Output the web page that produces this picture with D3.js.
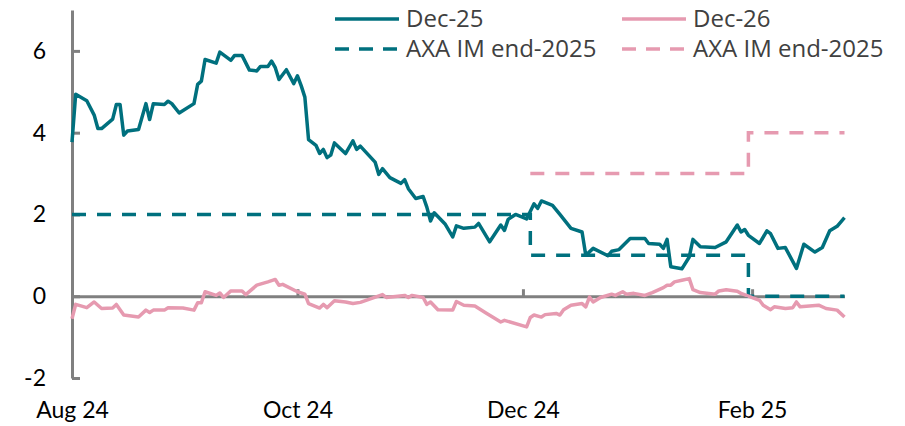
<!DOCTYPE html>
<html>
<head>
<meta charset="utf-8">
<script src="https://cdn.jsdelivr.net/npm/d3@7"></script>
<style>
  body { margin: 0; background: #fff; }
  svg { display: block; }
</style>
</head>
<body>
<svg width="905" height="426"></svg>
<script>
// Dec-25 contract (teal)
const dec25Dates = [
  "2024-08-01","2024-08-02","2024-08-05","2024-08-07","2024-08-08","2024-08-09","2024-08-12","2024-08-13",
  "2024-08-14","2024-08-15","2024-08-16","2024-08-19","2024-08-21","2024-08-22","2024-08-23","2024-08-26",
  "2024-08-27","2024-08-28","2024-08-30","2024-09-03","2024-09-04","2024-09-05","2024-09-06","2024-09-09",
  "2024-09-10","2024-09-13","2024-09-14","2024-09-16","2024-09-18","2024-09-20","2024-09-21","2024-09-23",
  "2024-09-24","2024-09-25","2024-09-26","2024-09-28","2024-09-30","2024-10-01","2024-10-02","2024-10-03",
  "2024-10-04","2024-10-06","2024-10-07","2024-10-08","2024-10-09","2024-10-10","2024-10-11","2024-10-14",
  "2024-10-16","2024-10-17","2024-10-18","2024-10-22","2024-10-23","2024-10-24","2024-10-26","2024-10-29",
  "2024-10-30","2024-10-31","2024-11-02","2024-11-04","2024-11-05","2024-11-06","2024-11-07","2024-11-10",
  "2024-11-12","2024-11-13","2024-11-15","2024-11-18","2024-11-19","2024-11-22","2024-11-25","2024-11-26",
  "2024-11-27","2024-11-29","2024-12-02","2024-12-04","2024-12-05","2024-12-06","2024-12-09","2024-12-11",
  "2024-12-14","2024-12-17","2024-12-18","2024-12-20","2024-12-24","2024-12-25","2024-12-27","2024-12-30",
  "2025-01-03","2025-01-04","2025-01-07","2025-01-08","2025-01-09","2025-01-10","2025-01-13","2025-01-15",
  "2025-01-16","2025-01-18","2025-01-22","2025-01-25","2025-01-28","2025-01-29","2025-01-30","2025-01-31",
  "2025-02-03","2025-02-05","2025-02-06","2025-02-08","2025-02-10","2025-02-13","2025-02-15","2025-02-18",
  "2025-02-20","2025-02-22","2025-02-24","2025-02-26"
];
const dec25Values = [
  3.77,4.94,4.78,4.43,4.10,4.10,4.33,4.69,
  4.69,3.94,4.04,4.08,4.71,4.32,4.71,4.69,
  4.77,4.71,4.48,4.71,5.18,5.26,5.79,5.70,
  5.97,5.77,5.89,5.89,5.53,5.51,5.62,5.62,
  5.75,5.59,5.30,5.54,5.20,5.39,5.15,4.87,
  3.83,3.69,3.49,3.59,3.39,3.45,3.75,3.49,
  3.80,3.59,3.67,3.28,2.98,3.12,2.90,2.76,
  2.85,2.63,2.39,2.44,2.18,1.84,2.04,1.76,
  1.45,1.72,1.66,1.69,1.78,1.33,1.74,1.61,
  1.88,2.00,1.89,2.26,2.15,2.33,2.22,2.00,
  1.66,1.57,1.00,1.17,0.99,1.10,1.14,1.41,
  1.41,1.29,1.27,1.17,1.39,0.72,0.67,0.96,
  1.39,1.21,1.19,1.33,1.74,1.57,1.63,1.49,
  1.29,1.60,1.53,1.17,1.19,0.68,1.27,1.08,
  1.19,1.60,1.71,1.92
];

// Dec-26 contract (pink)
const dec26Dates = [
  "2024-08-01","2024-08-02","2024-08-05","2024-08-07","2024-08-09","2024-08-12","2024-08-13","2024-08-15",
  "2024-08-19","2024-08-21","2024-08-22","2024-08-23","2024-08-26","2024-08-27","2024-08-31","2024-09-03",
  "2024-09-04","2024-09-05","2024-09-06","2024-09-09","2024-09-10","2024-09-11","2024-09-13","2024-09-16",
  "2024-09-17","2024-09-20","2024-09-23","2024-09-25","2024-09-26","2024-09-27","2024-10-01","2024-10-03",
  "2024-10-04","2024-10-07","2024-10-08","2024-10-09","2024-10-11","2024-10-14","2024-10-16","2024-10-18",
  "2024-10-24","2024-10-25","2024-10-30","2024-10-31","2024-11-01","2024-11-04","2024-11-05","2024-11-06",
  "2024-11-08","2024-11-12","2024-11-13","2024-11-15","2024-11-18","2024-11-21","2024-11-23","2024-11-25",
  "2024-11-26","2024-12-02","2024-12-03","2024-12-04","2024-12-06","2024-12-07","2024-12-10","2024-12-11",
  "2024-12-12","2024-12-14","2024-12-17","2024-12-18","2024-12-19","2024-12-20","2024-12-22","2024-12-25",
  "2024-12-26","2024-12-28","2024-12-29","2024-12-31","2025-01-03","2025-01-05","2025-01-08","2025-01-09",
  "2025-01-10","2025-01-11","2025-01-13","2025-01-15","2025-01-16","2025-01-18","2025-01-22","2025-01-23",
  "2025-01-25","2025-01-28","2025-01-29","2025-01-31","2025-02-03","2025-02-04","2025-02-06","2025-02-07",
  "2025-02-10","2025-02-12","2025-02-13","2025-02-14","2025-02-19","2025-02-21","2025-02-24","2025-02-26"
];
const dec26Values = [
  -0.55,-0.20,-0.28,-0.14,-0.30,-0.29,-0.20,-0.46,
  -0.51,-0.34,-0.40,-0.34,-0.34,-0.28,-0.29,-0.34,
  -0.16,-0.16,0.11,0.02,0.08,-0.03,0.13,0.13,
  0.04,0.27,0.35,0.41,0.27,0.29,0.11,0.05,
  -0.18,-0.29,-0.20,-0.28,-0.11,-0.14,-0.18,-0.15,
  0.04,-0.03,0.02,-0.03,0.02,-0.03,-0.20,-0.14,
  -0.33,-0.34,-0.13,-0.22,-0.24,-0.41,-0.52,-0.63,
  -0.59,-0.75,-0.52,-0.46,-0.51,-0.45,-0.42,-0.46,
  -0.33,-0.22,-0.18,-0.26,-0.02,-0.14,-0.03,0.05,
  0.02,0.11,0.05,0.07,0.02,0.09,0.21,0.27,
  0.27,0.35,0.39,0.43,0.16,0.09,0.05,0.13,
  0.16,0.12,0.07,0.00,-0.10,-0.22,-0.33,-0.26,
  -0.30,-0.28,-0.14,-0.26,-0.22,-0.30,-0.34,-0.51
];

// AXA IM end-2025 forecasts (step lines)
const axa25Dates = ["2024-08-01","2024-12-03","2024-12-03","2025-01-31","2025-01-31","2025-02-26"];
const axa25Values = [2, 2, 1, 1, 0, 0];
const axa26Dates = ["2024-12-03","2025-01-31","2025-01-31","2025-02-26"];
const axa26Values = [3, 3, 4, 4];

const yTicks = [-2, 0, 2, 4, 6];
const xTicks = ["2024-08-01","2024-10-01","2024-12-01","2025-02-01"];

const legendItems = [
  { label: "Dec-25", color: "#00707e", dash: null },
  { label: "AXA IM end-2025", color: "#00707e", dash: "14,10" },
  { label: "Dec-26", color: "#e69ab0", dash: null },
  { label: "AXA IM end-2025", color: "#e69ab0", dash: "14,10" }
];

const parse = d3.utcParse("%Y-%m-%d");
const svg = d3.select("svg");

const x = d3.scaleUtc()
  .domain([parse("2024-08-01"), parse("2025-02-26")])
  .range([72, 844.5]);
const y = d3.scaleLinear().domain([-2, 7]).range([378, 10]);

const toPoints = (dates, values) => dates.map((d, i) => ({ date: parse(d), value: values[i] }));

// y axis (plain hyphen for negatives, as in the source)
const yAxis = svg.append("g")
  .attr("transform", "translate(72,0)")
  .call(d3.axisLeft(y).tickValues(yTicks).tickFormat(d => String(d))
    .tickSizeInner(-8).tickSizeOuter(0).tickPadding(26));
yAxis.select(".domain").attr("stroke", "#808080").attr("stroke-width", 3);
yAxis.selectAll(".tick line").attr("stroke", "#808080").attr("stroke-width", 3);
yAxis.selectAll(".tick text")
  .attr("font-family", "Lato, 'Open Sans', sans-serif")
  .attr("font-size", 23)
  .attr("fill", "#000");

// x axis along zero
const xAxis = svg.append("g")
  .attr("transform", `translate(0,${y(0)})`)
  .call(d3.axisBottom(x).tickValues(xTicks.map(parse)).tickSizeInner(-7).tickSizeOuter(0).tickFormat(""));
xAxis.select(".domain").attr("stroke", "#808080").attr("stroke-width", 3);
xAxis.selectAll(".tick line").attr("stroke", "#808080").attr("stroke-width", 3);

// x labels at the bottom
const xLabels = svg.append("g")
  .attr("transform", "translate(0,402)")
  .call(d3.axisBottom(x).tickValues(xTicks.map(parse)).tickSize(0).tickPadding(0).tickFormat(d3.utcFormat("%b %y")));
xLabels.select(".domain").remove();
xLabels.selectAll(".tick text")
  .attr("font-family", "Lato, 'Open Sans', sans-serif")
  .attr("font-size", 23)
  .attr("fill", "#000");

const line = d3.line().x(d => x(d.date)).y(d => y(d.value));

// forecast dashed lines
svg.append("path")
  .datum(toPoints(axa25Dates, axa25Values))
  .attr("d", line)
  .attr("fill", "none")
  .attr("stroke", "#00707e")
  .attr("stroke-width", 3.5)
  .attr("stroke-dasharray", "14,11");

svg.append("path")
  .datum(toPoints(axa26Dates, axa26Values))
  .attr("d", line)
  .attr("fill", "none")
  .attr("stroke", "#e69ab0")
  .attr("stroke-width", 3.5)
  .attr("stroke-dasharray", "14,11");

// market pricing lines
svg.append("path")
  .datum(toPoints(dec26Dates, dec26Values))
  .attr("d", line)
  .attr("fill", "none")
  .attr("stroke", "#e69ab0")
  .attr("stroke-width", 3.5)
  .attr("stroke-linejoin", "round");

svg.append("path")
  .datum(toPoints(dec25Dates, dec25Values))
  .attr("d", line)
  .attr("fill", "none")
  .attr("stroke", "#00707e")
  .attr("stroke-width", 3.5)
  .attr("stroke-linejoin", "round");

// legend, two columns
const legend = svg.append("g");
const legendPos = [[335, 19], [335, 49], [622, 19], [622, 49]];
legendItems.forEach((item, i) => {
  const [lx, ly] = legendPos[i];
  legend.append("line")
    .attr("x1", lx).attr("x2", lx + 64)
    .attr("y1", ly).attr("y2", ly)
    .attr("stroke", item.color)
    .attr("stroke-width", 3.5)
    .attr("stroke-dasharray", item.dash);
  legend.append("text")
    .attr("x", lx + 71)
    .attr("y", ly)
    .attr("dy", "0.35em")
    .attr("font-family", "'Open Sans', sans-serif")
    .attr("font-size", 24)
    .attr("fill", "#404040")
    .text(item.label);
});
</script>
</body>
</html>
